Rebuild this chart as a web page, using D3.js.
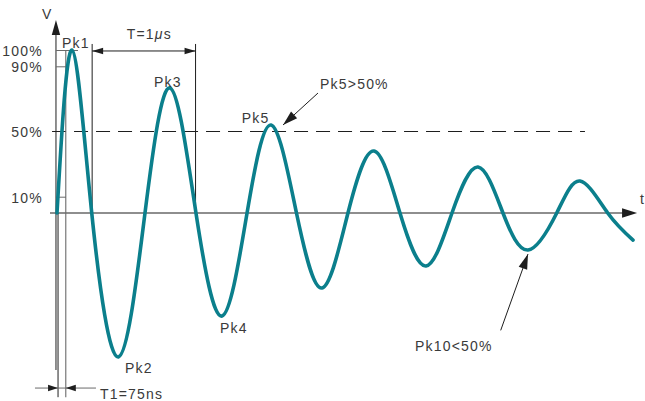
<!DOCTYPE html>
<html>
<head>
<meta charset="utf-8">
<script src="https://cdn.jsdelivr.net/npm/d3@7"></script>
<style>
  body { margin: 0; background: #fff; }
  text { font-family: "Liberation Sans", Arial, sans-serif; font-size: 14px; fill: #3a3a3a; letter-spacing: 1.2px; }
</style>
</head>
<body>
<svg id="chart" width="645" height="401"></svg>
<script>
// Damped ringing waveform: extrema and zero crossings (time in µs, amplitude in % of Pk1)
const waveT = [0, 0.145, 0.336, 0.595, 0.851, 1.093, 1.344, 1.596, 1.838, 2.07, 2.316, 2.563,
               2.814, 3.066, 3.317, 3.569, 3.82, 4.072, 4.313, 4.555, 4.833, 5.058, 5.326, 5.571];
const waveV = [0, 100, 0, -88.3, 0, 76.7, 0, -63.2, 0, 54, 0, -46,
               0, 38, 0, -32.5, 0, 28.2, 0, -22.7, 0, 19.6, 0, -16.6];

// Vertical axis ticks and where each tick line stops on the right (µs)
const yTicks = [100, 90, 50, 10];
const yTickLabels = ["100%", "90%", "50%", "10%"];
const yTickEnd = [0.203, 0.116, null, 0.087];

// Period annotation: T = 1 µs between two zero crossings
const periodStart = 0.34, periodLen = 1.0;
// Rise time annotation: T1 = 75 ns between the 10% and 90% points
const riseStart = 0.01, riseLen = 0.075;
// Threshold drawn as a dashed line
const threshold = 50;

// Peak labels: [text, t, v]
const peakLabels = [
  ["Pk1", 0.048, 101.5],
  ["Pk2", 0.658, -98.2],
  ["Pk3", 0.938, 77.3],
  ["Pk4", 1.576, -73.6],
  ["Pk5", 1.786, 55.4]
];
// Callouts: [text, textT, textV, fromT, fromV, tipT, tipV]
const callouts = [
  ["Pk5>50%", 2.544, 76.1, 2.524, 73.6, 2.186, 54.0],
  ["Pk10<50%", 3.462, -84.4, 4.291, -72.0, 4.555, -25.2]
];

const svg = d3.select("#chart");
const x = d3.scaleLinear().domain([0, 1]).range([57, 160.4]);
const y = d3.scaleLinear().domain([0, 100]).range([213, 50]);

const ink = "#1e1e1e", grey = "#6a6a6a", teal = "#0b7f8c";

function arrowHead(g, tx, ty, fx, fy, len, hw, fill) {
  const a = Math.atan2(ty - fy, tx - fx);
  const bx = tx - len * Math.cos(a), by = ty - len * Math.sin(a);
  const px = -Math.sin(a) * hw, py = Math.cos(a) * hw;
  g.append("path")
    .attr("d", `M${tx},${ty}L${bx + px},${by + py}L${bx - px},${by - py}Z`)
    .attr("fill", fill);
}

// Time axis with arrow
const xAxisFrom = -0.068, xAxisTo = 5.61;
svg.append("line")
  .attr("x1", x(xAxisFrom)).attr("x2", x(xAxisTo) - 10)
  .attr("y1", y(0)).attr("y2", y(0))
  .attr("stroke", ink).attr("stroke-width", 1.2);
arrowHead(svg, x(xAxisTo), y(0), x(xAxisFrom), y(0), 15, 4.8, ink);
svg.append("text").attr("x", x(5.638)).attr("y", y(5.5)).text("t");

// Voltage axis
const yAxisT = -0.01, yAxisBottom = -96.3, yAxisTop = 118.4;
svg.append("line")
  .attr("x1", x(yAxisT)).attr("x2", x(yAxisT))
  .attr("y1", y(yAxisBottom)).attr("y2", y(yAxisTop) + 10)
  .attr("stroke", "#444").attr("stroke-width", 1.2);
arrowHead(svg, x(yAxisT), y(yAxisTop), x(yAxisT), y(0), 15, 4.2, ink);
svg.append("text").attr("x", x(-0.145)).attr("y", y(119)).text("V");

const yAxis = d3.axisLeft(y)
  .tickValues(yTicks)
  .tickFormat((d, i) => yTickLabels[i])
  .tickSize(9)
  .tickPadding(4);
const ag = svg.append("g")
  .attr("transform", `translate(${x(yAxisT)},0)`)
  .call(yAxis);
ag.select(".domain").remove();
ag.selectAll(".tick line")
  .attr("stroke", grey).attr("stroke-width", 1)
  .attr("x2", (d, i) => yTickEnd[i] == null ? 0 : x(yTickEnd[i]) - x(yAxisT))
  .attr("display", (d, i) => yTickEnd[i] == null ? "none" : null);
ag.selectAll(".tick text")
  .attr("fill", null)
  .attr("dy", "0.38em");
ag.attr("font-family", null).attr("font-size", null);

// 50% threshold
svg.append("line")
  .attr("x1", x(-0.048)).attr("x2", x(5.106))
  .attr("y1", y(threshold)).attr("y2", y(threshold))
  .attr("stroke", ink).attr("stroke-width", 1.1)
  .attr("stroke-dasharray", "14,8");

// Period dimension
const pdV = 99.4, pdTop = 103.7;
[periodStart, periodStart + periodLen].forEach(t => {
  svg.append("line")
    .attr("x1", x(t)).attr("x2", x(t))
    .attr("y1", y(pdTop)).attr("y2", y(0))
    .attr("stroke", ink).attr("stroke-width", 1);
});
svg.append("line")
  .attr("x1", x(periodStart)).attr("x2", x(periodStart + periodLen))
  .attr("y1", y(pdV)).attr("y2", y(pdV))
  .attr("stroke", ink).attr("stroke-width", 1);
arrowHead(svg, x(periodStart), y(pdV), x(periodStart + periodLen), y(pdV), 11, 3.2, ink);
arrowHead(svg, x(periodStart + periodLen), y(pdV), x(periodStart), y(pdV), 11, 3.2, ink);
const tl = svg.append("text").attr("x", x(0.674)).attr("y", y(106.7));
tl.append("tspan").text("T=1");
tl.append("tspan").attr("font-style", "italic").text("\u03bc");
tl.append("tspan").text("s");

// Rise time dimension
const rdV = -107.4, rdBottom = -113;
svg.append("line")
  .attr("x1", x(riseStart)).attr("x2", x(riseStart))
  .attr("y1", y(0)).attr("y2", y(rdBottom))
  .attr("stroke", ink).attr("stroke-width", 1);
svg.append("line")
  .attr("x1", x(riseStart + riseLen)).attr("x2", x(riseStart + riseLen))
  .attr("y1", y(100)).attr("y2", y(rdBottom))
  .attr("stroke", grey).attr("stroke-width", 1.1);
svg.append("line")
  .attr("x1", x(-0.213)).attr("x2", x(0.377))
  .attr("y1", y(rdV)).attr("y2", y(rdV))
  .attr("stroke", grey).attr("stroke-width", 1);
arrowHead(svg, x(riseStart), y(rdV), x(-0.213), y(rdV), 10, 3.2, ink);
arrowHead(svg, x(riseStart + riseLen), y(rdV), x(0.377), y(rdV), 10, 3.2, ink);
svg.append("text").attr("x", x(0.416)).attr("y", y(-114.1)).text("T1=75ns");

// Waveform
const wave = waveT.map((t, i) => [t, waveV[i]]);
svg.append("path")
  .datum(wave)
  .attr("d", d3.line().x(d => x(d[0])).y(d => y(d[1])).curve(d3.curveNatural))
  .attr("fill", "none")
  .attr("stroke", teal)
  .attr("stroke-width", 3.6)
  .attr("stroke-linecap", "round");

// Peak labels
peakLabels.forEach(([s, t, v]) => {
  svg.append("text").attr("x", x(t)).attr("y", y(v)).text(s);
});

// Callouts with arrows
callouts.forEach(([s, lt, lv, ft, fv, tt, tv]) => {
  svg.append("text").attr("x", x(lt)).attr("y", y(lv)).text(s);
  svg.append("line")
    .attr("x1", x(ft)).attr("y1", y(fv))
    .attr("x2", x(tt)).attr("y2", y(tv))
    .attr("stroke", ink).attr("stroke-width", 1);
  arrowHead(svg, x(tt), y(tv), x(ft), y(fv), 15, 4.5, ink);
});
</script>
</body>
</html>
